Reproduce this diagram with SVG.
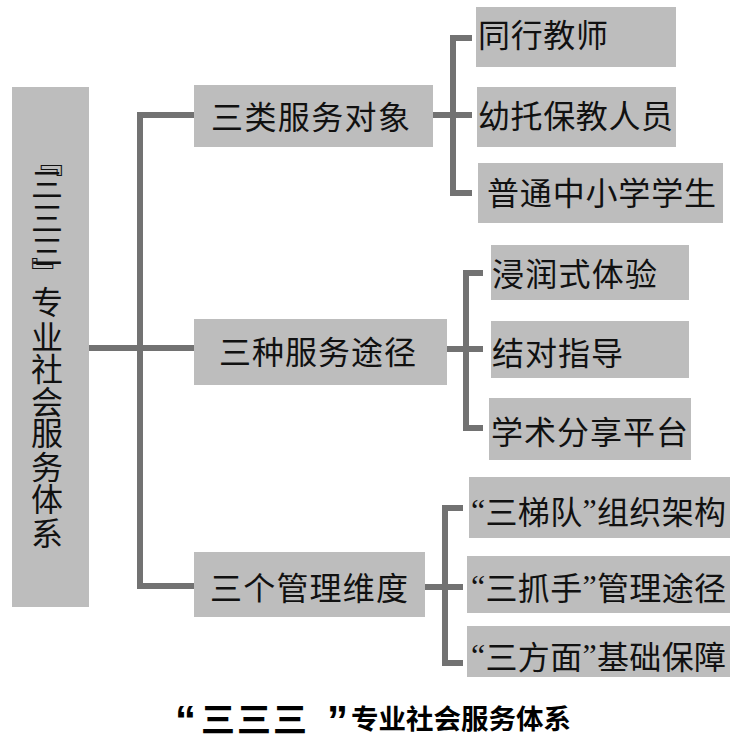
<svg xmlns="http://www.w3.org/2000/svg" width="737" height="736" viewBox="0 0 737 736">
<style>
.box{fill:#bdbdbd}
.t{font-family:"Noto Sans CJK SC","Noto Sans",sans-serif;font-size:32px;fill:#111;dominant-baseline:central}
.q{font-family:"Liberation Serif",serif}
.c{fill:none;stroke:#727272;stroke-width:6;stroke-linejoin:miter;stroke-linecap:butt}
.title{font-family:"Noto Sans CJK SC","Noto Sans",sans-serif;font-size:27.5px;font-weight:bold;fill:#000;dominant-baseline:central}
.tq{font-family:"Liberation Sans",sans-serif;font-weight:bold;font-size:42px}
.t3{font-size:34px}
</style>
<rect width="737" height="736" fill="#fff"/>
<g id="connectors">
<path class="c" d="M89,348 H194"/>
<path class="c" d="M194,115 H140 V586 H194"/>
<path class="c" d="M433,115 H472"/>
<path class="c" d="M472,38 H453 V193 H472"/>
<path class="c" d="M447,349 H483"/>
<path class="c" d="M483,273 H466 V428 H483"/>
<path class="c" d="M425,587 H463"/>
<path class="c" d="M463,508 H445 V663 H463"/>
</g>
<g id="root">
<rect class="box" x="12" y="87" width="77" height="520"/>
<text class="t" text-anchor="middle"><tspan x="47" y="159">﹃</tspan><tspan x="47" y="182">三</tspan><tspan x="47" y="216">三</tspan><tspan x="47" y="249">三</tspan><tspan x="47" y="271">﹄</tspan><tspan x="47" y="300">专</tspan><tspan x="47" y="335">业</tspan><tspan x="47" y="367">社</tspan><tspan x="47" y="400">会</tspan><tspan x="47" y="431">服</tspan><tspan x="47" y="465">务</tspan><tspan x="47" y="497">体</tspan><tspan x="47" y="531">系</tspan></text>
</g>
<g id="n1">
<rect class="box" x="194" y="85" width="239" height="62"/>
<text class="t" x="211" y="115" textLength="199">三类服务对象</text>
</g>
<g id="n2">
<rect class="box" x="194" y="319" width="253" height="66"/>
<text class="t" x="219" y="350" textLength="197">三种服务途径</text>
</g>
<g id="n3">
<rect class="box" x="194" y="552" width="231" height="65"/>
<text class="t" x="210" y="586" textLength="198">三个管理维度</text>
</g>
<g id="n1a">
<rect class="box" x="476" y="7" width="200" height="60"/>
<text class="t" x="478" y="33" textLength="130">同行教师</text>
</g>
<g id="n1b">
<rect class="box" x="477" y="87" width="199" height="60"/>
<text class="t" x="478" y="114" textLength="195">幼托保教人员</text>
</g>
<g id="n1c">
<rect class="box" x="478" y="163" width="245" height="60"/>
<text class="t" x="487" y="191" textLength="229">普通中小学学生</text>
</g>
<g id="n2a">
<rect class="box" x="491" y="245" width="198" height="55"/>
<text class="t" x="492" y="272" textLength="165">浸润式体验</text>
</g>
<g id="n2b">
<rect class="box" x="491" y="321" width="198" height="57"/>
<text class="t" x="492" y="351" textLength="131">结对指导</text>
</g>
<g id="n2c">
<rect class="box" x="489" y="398" width="202" height="62"/>
<text class="t" x="491" y="430" textLength="197">学术分享平台</text>
</g>
<g id="n3a">
<rect class="box" x="469" y="477" width="261" height="61"/>
<text class="t" x="471" y="510" textLength="255"><tspan class="q">“</tspan>三梯队<tspan class="q">”</tspan>组织架构</text>
</g>
<g id="n3b">
<rect class="box" x="467" y="556" width="263" height="57"/>
<text class="t" x="471" y="586" textLength="255"><tspan class="q">“</tspan>三抓手<tspan class="q">”</tspan>管理途径</text>
</g>
<g id="n3c">
<rect class="box" x="467" y="626" width="263" height="51"/>
<text class="t" x="471" y="655" textLength="255"><tspan class="q">“</tspan>三方面<tspan class="q">”</tspan>基础保障</text>
</g>
<g id="caption">
<text class="title" y="717"><tspan class="tq" x="175" y="720">“</tspan><tspan class="t3" x="201" y="717">三</tspan><tspan class="t3" x="237">三</tspan><tspan class="t3" x="273">三</tspan><tspan class="tq" x="327" y="720">”</tspan><tspan x="351" y="717">专业社会服务体系</tspan></text>
</g>
</svg>
